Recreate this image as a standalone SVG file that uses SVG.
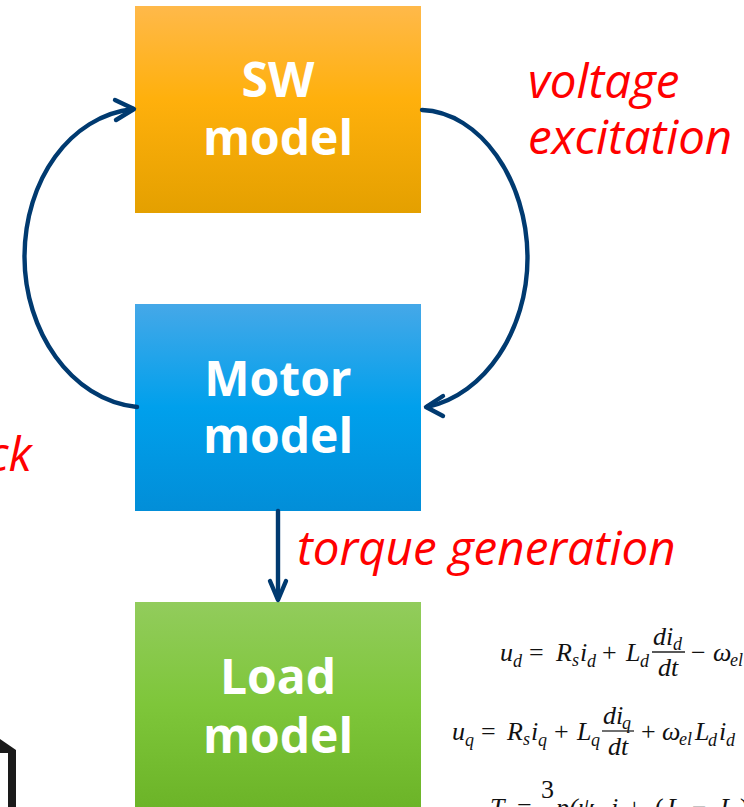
<svg xmlns="http://www.w3.org/2000/svg" width="744" height="807" viewBox="0 0 744 807">
<style>
.n{font-family:"Open Sans","Noto Sans",sans-serif;font-weight:700;font-size:48px;fill:#fff;text-anchor:middle}
.l{font-family:"Open Sans","Noto Sans",sans-serif;font-style:italic;font-size:47.5px;fill:#f00}
.c{fill:none;stroke:#003a70;stroke-width:4.4;stroke-linecap:round;stroke-linejoin:round}
.m{font-family:"Liberation Serif",serif;font-style:italic;font-size:26px;fill:#111}
.u{font-family:"Liberation Serif",serif;font-size:26px;fill:#111}
.s{font-family:"Liberation Serif",serif;font-style:italic;font-size:18px;fill:#111}
.b{stroke:#222;stroke-width:1.3}
</style>
<defs>
<linearGradient id="gs" x1="0" y1="0" x2="0" y2="1"><stop offset="0" stop-color="#ffb94a"/><stop offset="0.45" stop-color="#ffb00c"/><stop offset="1" stop-color="#e4a000"/></linearGradient>
<linearGradient id="gm" x1="0" y1="0" x2="0" y2="1"><stop offset="0" stop-color="#45a8e8"/><stop offset="0.5" stop-color="#00a0ec"/><stop offset="1" stop-color="#028ed8"/></linearGradient>
<linearGradient id="gl" x1="0" y1="0" x2="0" y2="1"><stop offset="0" stop-color="#92cc5c"/><stop offset="0.5" stop-color="#7ec63a"/><stop offset="1" stop-color="#6cb428"/></linearGradient>
</defs>
<g id="sw-model"><rect x="135" y="6" width="286" height="207" fill="url(#gs)"/><text class="n" x="278" y="97">SW</text><text class="n" x="278" y="155">model</text></g>
<g id="motor-model"><rect x="135" y="304" width="286" height="207" fill="url(#gm)"/><text class="n" x="278" y="396">Motor</text><text class="n" x="278" y="453">model</text></g>
<g id="load-model"><rect x="135" y="602" width="286" height="205" fill="url(#gl)"/><text class="n" x="278" y="694">Load</text><text class="n" x="278" y="753">model</text></g>
<g id="connectors">
<path class="c" d="M137 407C70 400 24.500 330 24.500 257C24.500 180 70 116 133 109"/>
<path class="c" d="M115 100L134 109L116 120"/>
<path class="c" d="M422 110C480 112 527.500 180 527.500 258C527.500 330 485 395 427 407"/>
<path class="c" d="M443 396L426 407L443 416"/>
<path class="c" d="M278 511V599"/>
<path class="c" d="M270 581L278 600L286 581"/>
</g>
<g id="labels">
<text class="l" x="528" y="98">voltage</text>
<text class="l" x="528" y="154">excitation</text>
<text class="l" x="297" y="565">torque generation</text>
<text class="l" x="-13" y="471">ck</text>
</g>
<g id="equations">
<text class="m" x="500" y="661">u</text><text class="s" x="513" y="667">d</text>
<text class="u" x="529" y="661">=</text>
<text class="m" x="556" y="661">R</text><text class="s" x="572" y="666">s</text><text class="m" x="580" y="661">i</text><text class="s" x="587" y="667">d</text>
<text class="u" x="602" y="661">+</text>
<text class="m" x="626" y="661">L</text><text class="s" x="640" y="667">d</text>
<text class="m" x="653" y="645">di</text><text class="s" x="673" y="650">d</text>
<line class="b" x1="652" y1="652" x2="685" y2="652"/>
<text class="m" x="658" y="676">dt</text>
<text class="u" x="691" y="661">−</text>
<text class="m" x="713" y="661">ω</text><text class="s" x="730" y="666">el</text>

<text class="m" x="452" y="740">u</text><text class="s" x="465" y="746">q</text>
<text class="u" x="481" y="740">=</text>
<text class="m" x="507" y="740">R</text><text class="s" x="523" y="745">s</text><text class="m" x="531" y="740">i</text><text class="s" x="538" y="746">q</text>
<text class="u" x="554" y="740">+</text>
<text class="m" x="577" y="740">L</text><text class="s" x="591" y="746">q</text>
<text class="m" x="603" y="724">di</text><text class="s" x="622" y="729">q</text>
<line class="b" x1="602" y1="731" x2="634" y2="731"/>
<text class="m" x="608" y="755">dt</text>
<text class="u" x="641" y="740">+</text>
<text class="m" x="662" y="740">ω</text><text class="s" x="679" y="745">el</text>
<text class="m" x="695" y="740">L</text><text class="s" x="708" y="746">d</text><text class="m" x="719" y="740">i</text><text class="s" x="726" y="746">d</text>

<text class="m" x="490" y="816">T</text>
<text class="u" x="517" y="816">=</text>
<text class="u" x="541" y="798">3</text>
<text class="m" x="556" y="816">p(ψ</text>
<text class="m" x="611" y="816">i</text>
<text class="u" x="627" y="816">+</text>
<text class="u" x="655" y="816">(</text>
<text class="m" x="667" y="816">L</text>
<text class="u" x="692" y="816">−</text>
<text class="m" x="720" y="816">L</text>
<text class="u" x="740" y="816">)</text>
</g>
<g id="icon"><path d="M0 739L16 750V807H8V753H0Z" fill="#1a1a1a"/></g>
</svg>
